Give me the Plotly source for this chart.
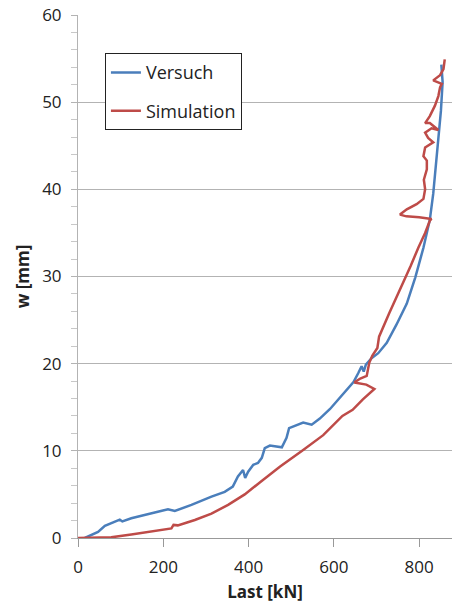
import plotly.graph_objects as go

# Versuch (experiment)
versuch_last = [16, 47, 63, 94, 98, 104, 125, 156, 195, 211, 227, 266, 313, 344, 363, 375, 387,
                392, 399, 411, 422, 431, 438, 450, 478, 489, 495, 528, 548, 567, 591, 614, 628,
                646, 657, 665, 670, 675, 689, 704, 724, 747, 771, 791, 810, 825, 833, 842, 847,
                851, 855, 852]
versuch_w = [0, 0.7, 1.4, 1.95, 2.1, 1.9, 2.26, 2.64, 3.14, 3.3, 3.1, 3.8, 4.75, 5.3, 5.9, 7.05, 7.8,
             6.9, 7.6, 8.4, 8.6, 9.2, 10.3, 10.6, 10.4, 11.5, 12.6, 13.25, 13.0, 13.7, 14.8, 16.06, 16.8,
             17.9, 18.9, 19.7, 19.1, 19.9, 20.65, 21.2, 22.4, 24.5, 26.9, 29.9, 33.3, 36.5, 39.5, 44.6, 46.5,
             49.0, 52.3, 54.3]

# Simulation
sim_last = [0, 78, 125, 180, 219, 224, 234, 274, 313, 352, 391, 427, 474, 528, 575, 620, 644,
            668, 685, 695, 676, 648, 662, 677, 683, 690, 702, 706, 730, 759, 773, 780, 798,
            814, 825, 829, 800, 770, 755, 771, 794, 810, 814, 811, 818, 818, 810, 814, 833,
            821, 814, 829, 845, 825, 814, 825, 837, 845, 849, 853, 833, 849, 857, 860]
sim_w = [0, 0.08, 0.4, 0.85, 1.1, 1.5, 1.45, 2.07, 2.8, 3.8, 5.0, 6.4, 8.2, 10.1, 11.8, 14.0, 14.7,
         15.9, 16.6, 17.1, 17.6, 17.85, 18.3, 18.6, 20.1, 20.9, 21.8, 23.1, 25.8, 28.9, 30.4, 31.2, 33.3,
         35.0, 36.4, 36.6, 36.8, 36.9, 37.1, 37.7, 38.3, 38.9, 40.0, 41.1, 42.3, 43.3, 43.8, 44.8, 45.4,
         45.9, 46.5, 47.0, 46.8, 47.6, 47.6, 48.4, 49.6, 50.7, 51.7, 52.1, 52.5, 53.1, 53.8, 54.9]

x_ticks = [0, 200, 400, 600, 800]
y_ticks = [0, 10, 20, 30, 40, 50, 60]

FONT = "Open Sans"

fig = go.Figure()
fig.add_trace(go.Scatter(x=versuch_last, y=versuch_w, mode="lines", name="Versuch",
                         line=dict(color="#4a7ebb", width=2.5), legendgroup="a"))
fig.add_trace(go.Scatter(x=sim_last, y=sim_w, mode="lines", name="Simulation",
                         line=dict(color="#be4b48", width=2.5), legendgroup="b"))

fig.update_layout(
    width=452, height=606,
    margin=dict(l=78, r=0, t=15, b=68),
    paper_bgcolor="white", plot_bgcolor="white",
    font=dict(family=FONT, size=17, color="#222"),
    showlegend=True,
    legend=dict(x=0.072, y=0.927, xanchor="left", yanchor="top",
                bordercolor="#222", borderwidth=1, bgcolor="white",
                font=dict(family=FONT, size=18, color="#222"),
                tracegroupgap=12, traceorder="grouped", itemwidth=30),
    xaxis=dict(range=[0, 877], tickvals=x_ticks, showgrid=False, zeroline=False,
               showline=True, linecolor="#999", linewidth=1,
               ticks="outside", ticklen=8, tickcolor="#999",
               ticklabelstandoff=6,
               title=dict(text="<b>Last [kN]</b>", standoff=8,
                          font=dict(family=FONT, size=17, color="#222"))),
    yaxis=dict(range=[0, 60], tickvals=y_ticks, showgrid=True, gridcolor="#b3b3b3", gridwidth=1,
               zeroline=False, showline=True, linecolor="#b3b3b3", linewidth=1,
               ticks="outside", ticklen=6, tickcolor="#b3b3b3",
               ticklabelstandoff=6,
               minor=dict(dtick=2, ticks="outside", ticklen=6, tickcolor="#c8c8c8", showgrid=False),
               title=dict(text="<b>w [mm]</b>", standoff=8,
                          font=dict(family=FONT, size=17, color="#222"))),
)

fig.write_html("out.html")
